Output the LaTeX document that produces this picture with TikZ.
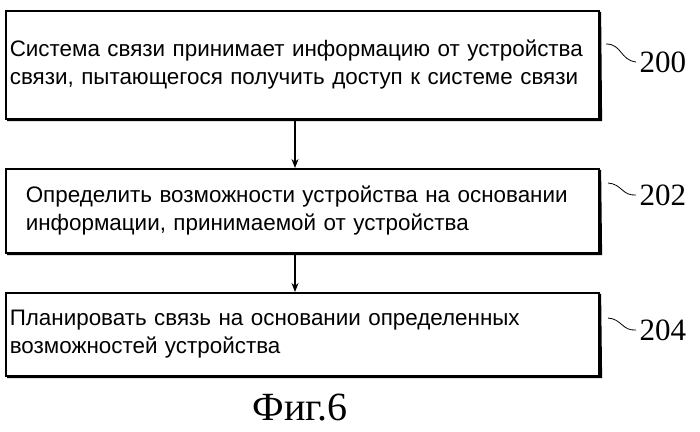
\documentclass[tikz,border=0pt]{standalone}
\usepackage{fontspec}
\setmainfont{Liberation Serif}
\newfontfamily\boxfont{Liberation Sans}
\usetikzlibrary{positioning,arrows.meta}
\tikzset{
  stepbox/.style={draw,line width=1.6pt,minimum width=593pt,inner sep=0pt,
    font=\boxfont\fontsize{22.4}{28}\selectfont,align=left,text width=585pt},
  shade/.style={line width=3pt},
  tag/.style={font=\fontsize{31}{32}\selectfont,anchor=west},
  squig/.style={line width=0.8pt}
}
\begin{document}
\begin{tikzpicture}[>=stealth,x=1pt,y=-1pt]
  \useasboundingbox (0,0) rectangle (700,431);
  % boxes
  \node[stepbox,minimum height=108pt,anchor=north west] (s200) at (5,10)
    {Система связи принимает информацию от устройства\\связи, пытающегося получить доступ к системе связи};
  \node[stepbox,minimum height=84pt,anchor=north west] (s202) at (5,168)
    {\hspace*{16pt}Определить возможности устройства на основании\\\hspace*{16pt}информации, принимаемой от устройства};
  \node[stepbox,minimum height=83pt,anchor=north west] (s204) at (5,292)
    {Планировать связь на основании определенных\\возможностей устройства};
  % heavier bottom/right edges
  \foreach \b in {s200,s202,s204}
    \draw[shade] ([xshift=2pt]\b.south west) -- ([xshift=1pt]\b.south east) -- ([yshift=-2pt]\b.north east);
  % arrows
  \draw[-{Stealth[length=9pt,width=7pt]},line width=1.2pt] (s200.south -| 295,0) -- (s202.north -| 295,0);
  \draw[-{Stealth[length=9pt,width=7pt]},line width=1.2pt] (s202.south -| 295,0) -- (s204.north -| 295,0);
  % reference numbers
  \node[tag] (n200) at (636,62) {200};
  \node[tag] (n202) at (636,195) {202};
  \node[tag] (n204) at (636,330) {204};
  \draw[squig] (606,44) .. controls (622,44) and (620,60) .. (n200.west);
  \draw[squig] (608,183) .. controls (622,184) and (622,196) .. (n202.west);
  \draw[squig] (608,318) .. controls (622,319) and (622,331) .. (n204.west);
  % caption
  \node[font=\fontsize{40}{42}\selectfont] (cap) at (300,408) {Фиг.6};
\end{tikzpicture}
\end{document}
